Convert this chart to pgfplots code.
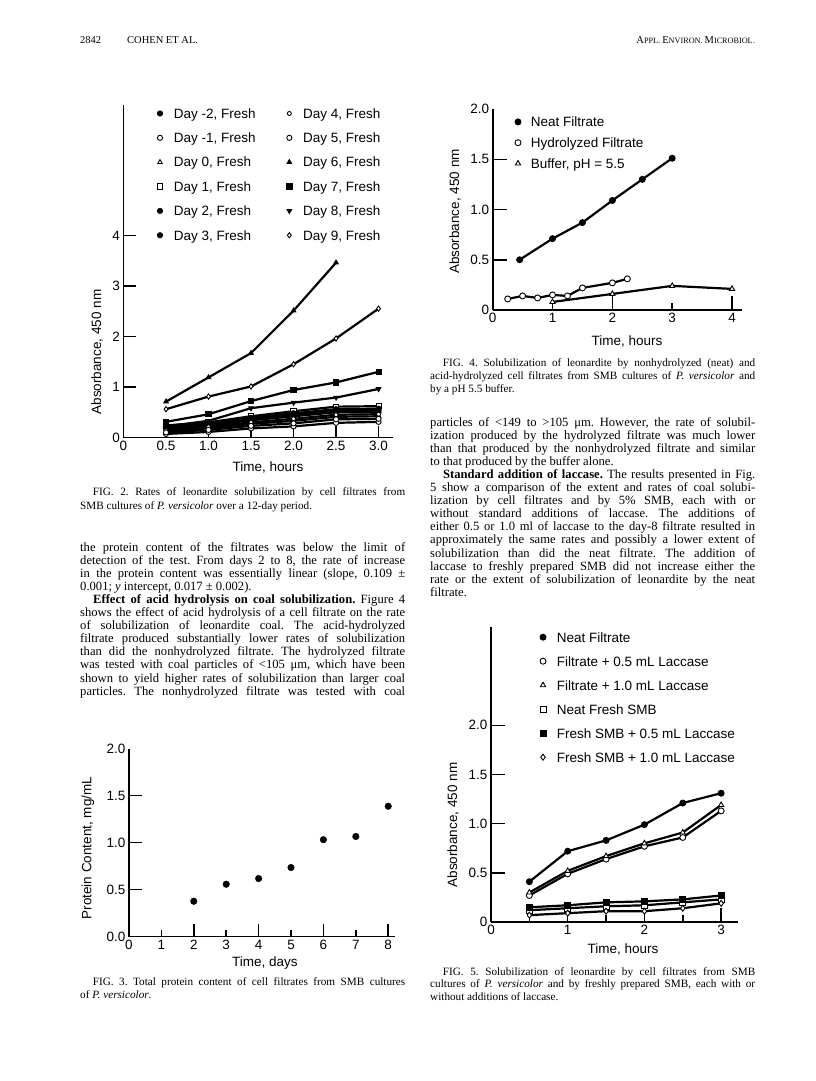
\documentclass[border=0pt]{standalone}
\usepackage{fontspec}
\setmainfont{Liberation Serif}
\setsansfont{Liberation Sans}
\usepackage{pgfplots}
\pgfplotsset{compat=1.18}

\newcommand{\sfl}{\sffamily\fontsize{13.5}{15}\selectfont}
\newcommand{\bodyf}{\fontsize{12.6}{13}\selectfont\frenchspacing}
\newcommand{\capf}{\fontsize{11.2}{13}\selectfont\frenchspacing}
% justified / last lines of body text and captions (page units: 1pt = 1px)
\newcommand{\BL}[4]{\node[anchor=base west,inner sep=0pt,font=\bodyf] at (#1,#2) {\makebox[#3pt][s]{#4}};}
\newcommand{\BE}[3]{\node[anchor=base west,inner sep=0pt,font=\bodyf] at (#1,#2) {#3};}
\newcommand{\CL}[4]{\node[anchor=base west,inner sep=0pt,font=\capf] at (#1,#2) {\makebox[#3pt][s]{#4}};}
\newcommand{\CE}[3]{\node[anchor=base west,inner sep=0pt,font=\capf] at (#1,#2) {#3};}

\pgfplotsset{
  legend image code/.code={\draw[#1] plot coordinates {(0pt,0pt)};},
  pagefig/.style={
    scale only axis, anchor=south west, clip=false,
    axis x line=bottom, axis y line=left,
    axis line style={-, line width=1.8pt, black},
    tick align=inside, major tick length=12pt,
    tick style={line width=1.5pt, black},
    tick label style={font=\sfl},
    legend cell align=left,
    legend style={draw=none, fill=none, inner sep=0pt, column sep=0pt,
      nodes={inner sep=0pt, text height=9.6pt, text depth=0pt, font=\sfl}},
  },
  dl/.style={black, line width=2.2pt},
  fc/.style={dl, mark=*, mark options={solid, draw=black, fill=black, line width=0.9pt}},
  oc/.style={dl, mark=*, mark options={solid, draw=black, fill=white, line width=0.9pt}},
  ot/.style={dl, mark=triangle*, mark options={solid, draw=black, fill=white, line width=0.9pt}},
  ft/.style={dl, mark=triangle*, mark options={solid, draw=black, fill=black, line width=0.9pt}},
  dt/.style={dl, mark=triangle*, mark options={solid, draw=black, fill=black, line width=0.9pt, rotate=180}},
  os/.style={dl, mark=square*, mark options={solid, draw=black, fill=white, line width=0.9pt}},
  fs/.style={dl, mark=square*, mark options={solid, draw=black, fill=black, line width=0.9pt}},
  od/.style={dl, mark=diamond*, mark options={solid, draw=black, fill=white, line width=0.9pt}},
}

\begin{document}
\begin{tikzpicture}
\fill[white] (0pt,0pt) rectangle (816pt,-1081pt);
\path[use as bounding box] (0pt,0pt) rectangle (816pt,-1081pt);

% ---------------- FIG. 2
\begin{axis}[pagefig, at={(123.5pt,-437.5pt)}, width=269.5pt, height=332.5pt,
  xmin=0, xmax=3.17, ymin=0, ymax=6.58,
  xtick={0,0.5,1,1.5,2,2.5,3}, xticklabels={0,0.5,1.0,1.5,2.0,2.5,3.0},
  ytick={0,1,2,3,4}, yticklabels={0,1,2,3,4},
  every axis plot/.append style={mark size=2.6pt},
  legend columns=6, transpose legend,
  legend style={at={(0.125,0.9895)}, anchor=north west, row sep=14.75pt,
    /tikz/every odd column/.append style={column sep=11.2pt},
    /tikz/every even column/.append style={column sep=31.2pt}},
]
\addplot[fc] coordinates {(0.5,0.20) (1,0.26) (1.5,0.36) (2,0.45) (2.5,0.53) (3,0.54)};
\addlegendentry{Day -2, Fresh}
\addplot[oc] coordinates {(0.5,0.07) (1,0.11) (1.5,0.18) (2,0.22) (2.5,0.29) (3,0.31)};
\addlegendentry{Day -1, Fresh}
\addplot[ot] coordinates {(0.5,0.13) (1,0.18) (1.5,0.27) (2,0.33) (2.5,0.41) (3,0.42)};
\addlegendentry{Day 0, Fresh}
\addplot[os] coordinates {(0.5,0.24) (1,0.30) (1.5,0.42) (2,0.52) (2.5,0.61) (3,0.62)};
\addlegendentry{Day 1, Fresh}
\addplot[fc] coordinates {(0.5,0.18) (1,0.24) (1.5,0.34) (2,0.42) (2.5,0.50) (3,0.50)};
\addlegendentry{Day 2, Fresh}
\addplot[fc] coordinates {(0.5,0.22) (1,0.28) (1.5,0.39) (2,0.48) (2.5,0.56) (3,0.57)};
\addlegendentry{Day 3, Fresh}
\addplot[oc, mark size=2pt] coordinates {(0.5,0.15) (1,0.21) (1.5,0.30) (2,0.37) (2.5,0.45) (3,0.46)};
\addlegendentry{Day 4, Fresh}
\addplot[oc] coordinates {(0.5,0.10) (1,0.15) (1.5,0.23) (2,0.28) (2.5,0.36) (3,0.37)};
\addlegendentry{Day 5, Fresh}
\addplot[ft] coordinates {(0.5,0.71) (1,1.19) (1.5,1.67) (2,2.51) (2.5,3.46)};
\addlegendentry{Day 6, Fresh}
\addplot[fs] coordinates {(0.5,0.31) (1,0.46) (1.5,0.72) (2,0.94) (2.5,1.09) (3,1.30)};
\addlegendentry{Day 7, Fresh}
\addplot[dt] coordinates {(0.5,0.22) (1,0.33) (1.5,0.58) (2,0.69) (2.5,0.79) (3,0.96)};
\addlegendentry{Day 8, Fresh}
\addplot[od] coordinates {(0.5,0.56) (1,0.81) (1.5,1.01) (2,1.45) (2.5,1.96) (3,2.55)};
\addlegendentry{Day 9, Fresh}
\end{axis}

% ---------------- FIG. 3
\begin{axis}[pagefig, at={(129pt,-936.5pt)}, width=265.7pt, height=188pt,
  xmin=0, xmax=8.2, ymin=0, ymax=2,
  xtick={0,2,4,6,8}, xticklabels={0,2,4,6,8},
  extra x ticks={1,3,5,7}, extra x tick labels={1,3,5,7},
  extra x tick style={major tick length=7pt},
  ytick={0,0.5,1,1.5}, yticklabels={0.0,0.5,1.0,1.5},
  extra y ticks={2}, extra y tick labels={2.0},
  extra y tick style={major tick length=0pt},
  major tick length=13pt,
]
\addplot[only marks, mark=*, mark size=3.3pt, black] coordinates {
  (2,0.375) (3,0.556) (4,0.617) (5,0.734) (6,1.03) (7,1.064) (8,1.386)};
\end{axis}

% ---------------- FIG. 4
\begin{axis}[pagefig, at={(492.7pt,-310pt)}, width=248.9pt, height=201pt,
  xmin=0, xmax=4.16, ymin=0, ymax=2,
  xtick={0,2,4}, xticklabels={0,2,4},
  extra x ticks={1,3}, extra x tick labels={1,3},
  extra x tick style={major tick length=7pt},
  ytick={0,0.5,1,1.5}, yticklabels={0,0.5,1.0,1.5},
  extra y ticks={2}, extra y tick labels={2.0},
  extra y tick style={major tick length=0pt},
  major tick length=14pt,
  every axis plot/.append style={mark size=3pt},
  legend style={at={(0.0888,0.9607)}, anchor=north west, row sep=11.2pt,
    /tikz/every odd column/.append style={column sep=9.8pt}},
]
\addplot[fc] coordinates {(0.45,0.50) (1,0.71) (1.5,0.87) (2,1.09) (2.5,1.30) (3,1.51)};
\addlegendentry{Neat Filtrate}
\addplot[oc] coordinates {(0.25,0.11) (0.5,0.14) (0.75,0.12) (1,0.15) (1.25,0.14) (1.5,0.22) (2,0.27) (2.25,0.31)};
\addlegendentry{Hydrolyzed Filtrate}
\addplot[ot] coordinates {(1,0.08) (2,0.16) (3,0.24) (4,0.21)};
\addlegendentry{Buffer, pH = 5.5}
\end{axis}

% ---------------- FIG. 5
\begin{axis}[pagefig, at={(491pt,-922pt)}, width=247pt, height=295pt,
  xmin=0, xmax=3.22, ymin=0, ymax=3,
  xtick={0,1,2,3}, xticklabels={0,1,2,3},
  extra x ticks={0.5,1.5,2.5}, extra x tick labels={,,},
  extra x tick style={major tick length=7pt},
  ytick={0,0.5,1,1.5,2}, yticklabels={0,0.5,1.0,1.5,2.0},
  major tick length=14pt,
  every axis plot/.append style={mark size=3pt},
  legend style={at={(0.1976,0.9824)}, anchor=north west, row sep=14.4pt,
    /tikz/every odd column/.append style={column sep=10.8pt}},
]
\addplot[fc] coordinates {(0.5,0.41) (1,0.72) (1.5,0.83) (2,0.99) (2.5,1.21) (3,1.31)};
\addlegendentry{Neat Filtrate}
\addplot[oc] coordinates {(0.5,0.27) (1,0.49) (1.5,0.64) (2,0.77) (2.5,0.86) (3,1.13)};
\addlegendentry{Filtrate + 0.5 mL Laccase}
\addplot[ot] coordinates {(0.5,0.30) (1,0.52) (1.5,0.67) (2,0.80) (2.5,0.91) (3,1.19)};
\addlegendentry{Filtrate + 1.0 mL Laccase}
\addplot[os] coordinates {(0.5,0.12) (1,0.14) (1.5,0.16) (2,0.17) (2.5,0.20) (3,0.23)};
\addlegendentry{Neat Fresh SMB}
\addplot[fs] coordinates {(0.5,0.15) (1,0.17) (1.5,0.20) (2,0.21) (2.5,0.23) (3,0.27)};
\addlegendentry{Fresh SMB + 0.5 mL Laccase}
\addplot[od] coordinates {(0.5,0.07) (1,0.09) (1.5,0.11) (2,0.11) (2.5,0.14) (3,0.19)};
\addlegendentry{Fresh SMB + 1.0 mL Laccase}
\end{axis}

\begin{scope}[x=1pt, y=-1pt]
% running head
\node[anchor=base west, inner sep=0pt, font=\fontsize{10.5}{12}\selectfont] at (80,43.7) {2842};
\node[anchor=base west, inner sep=0pt, font=\fontsize{10.5}{12}\selectfont] at (127,43.7) {COHEN ET AL.};
\node[anchor=base east, inner sep=0pt] at (755,43.7) {\fontsize{10.5}{12}\selectfont A\fontsize{8.2}{12}\selectfont PPL. \fontsize{10.5}{12}\selectfont E\fontsize{8.2}{12}\selectfont NVIRON. \fontsize{10.5}{12}\selectfont M\fontsize{8.2}{12}\selectfont ICROBIOL.};

% axis titles
\node[font=\sfl, rotate=90] at (97,352) {Absorbance, 450 nm};
\node[font=\sfl] at (268,467) {Time, hours};
\node[font=\sfl, rotate=90] at (88,848) {Protein Content, mg/mL};
\node[font=\sfl] at (265,963) {Time, days};
\node[font=\sfl, rotate=90] at (455,211.5) {Absorbance, 450 nm};
\node[font=\sfl] at (627,341) {Time, hours};
\node[font=\sfl, rotate=90] at (453,825) {Absorbance, 450 nm};
\node[font=\sfl] at (623,949) {Time, hours};

% captions
\CL{92.7}{495.5}{312.3}{FIG. 2. Rates of leonardite solubilization by cell filtrates from}
\CE{80}{509}{SMB cultures of \textit{P. versicolor} over a 12-day period.}
\CL{92.7}{985}{312.3}{FIG. 3. Total protein content of cell filtrates from SMB cultures}
\CE{80}{998}{of \textit{P. versicolor}.}
\CL{442.7}{366}{312.3}{FIG. 4. Solubilization of leonardite by nonhydrolyzed (neat) and}
\CL{430}{379}{325}{acid-hydrolyzed cell filtrates from SMB cultures of \textit{P. versicolor} and}
\CE{430}{392}{by a pH 5.5 buffer.}
\CL{442.7}{975}{312.3}{FIG. 5. Solubilization of leonardite by cell filtrates from SMB}
\CL{430}{987.5}{325}{cultures of \textit{P. versicolor} and by freshly prepared SMB, each with or}
\CE{430}{1000}{without additions of laccase.}

% left column text
\BL{80}{551}{325}{the protein content of the filtrates was below the limit of}
\BL{80}{564.1}{325}{detection of the test. From days 2 to 8, the rate of increase}
\BL{80}{577.2}{325}{in the protein content was essentially linear (slope, 0.109 ±}
\BE{80}{590.3}{0.001; \textit{y} intercept, 0.017 ± 0.002).}
\BL{93}{603.4}{312}{\textbf{Effect of acid hydrolysis on coal solubilization.} Figure 4}
\BL{80}{616.5}{325}{shows the effect of acid hydrolysis of a cell filtrate on the rate}
\BL{80}{629.6}{325}{of solubilization of leonardite coal. The acid-hydrolyzed}
\BL{80}{642.7}{325}{filtrate produced substantially lower rates of solubilization}
\BL{80}{655.8}{325}{than did the nonhydrolyzed filtrate. The hydrolyzed filtrate}
\BL{80}{668.9}{325}{was tested with coal particles of <105 μm, which have been}
\BL{80}{682}{325}{shown to yield higher rates of solubilization than larger coal}
\BL{80}{695.1}{325}{particles. The nonhydrolyzed filtrate was tested with coal}

% right column text
\BL{430}{426}{325}{particles of <149 to >105 μm. However, the rate of solubil-}
\BL{430}{439.1}{325}{ization produced by the hydrolyzed filtrate was much lower}
\BL{430}{452.2}{325}{than that produced by the nonhydrolyzed filtrate and similar}
\BE{430}{465.3}{to that produced by the buffer alone.}
\BL{443}{478.4}{312}{\textbf{Standard addition of laccase.} The results presented in Fig.}
\BL{430}{491.5}{325}{5 show a comparison of the extent and rates of coal solubi-}
\BL{430}{504.6}{325}{lization by cell filtrates and by 5\% SMB, each with or}
\BL{430}{517.7}{325}{without standard additions of laccase. The additions of}
\BL{430}{530.8}{325}{either 0.5 or 1.0 ml of laccase to the day-8 filtrate resulted in}
\BL{430}{543.9}{325}{approximately the same rates and possibly a lower extent of}
\BL{430}{557}{325}{solubilization than did the neat filtrate. The addition of}
\BL{430}{570.1}{325}{laccase to freshly prepared SMB did not increase either the}
\BL{430}{583.2}{325}{rate or the extent of solubilization of leonardite by the neat}
\BE{430}{596.3}{filtrate.}
\end{scope}
\end{tikzpicture}
\end{document}
